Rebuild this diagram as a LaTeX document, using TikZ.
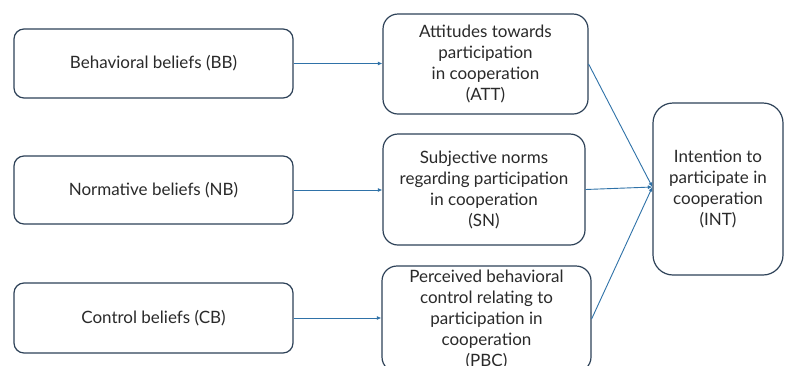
\documentclass[tikz,border=0pt]{standalone}
\usepackage{fontspec}
\setmainfont{Lato}
\usetikzlibrary{arrows.meta}
\definecolor{boxline}{HTML}{2E4258}
\definecolor{arrowline}{HTML}{2F72A8}
\definecolor{txt}{HTML}{2A2A2A}
\begin{document}
\begin{tikzpicture}[x=1pt,y=-1pt,
  box/.style={draw=boxline, line width=1.2pt, rectangle, rounded corners=10pt,
    align=center, text=txt, inner sep=0pt,
    font=\fontsize{17}{21}\selectfont},
  conn/.style={draw=arrowline, line width=0.9pt, -{Latex[length=4.5pt,width=4pt]}}]
\useasboundingbox (0,0) rectangle (785,365);
\clip (0,0) rectangle (785,365);
\fill[white] (0,0) rectangle (785,365);
\node[box, minimum width=279pt, minimum height=69pt] (BB) at (153.5,63.5) {Behavioral beliefs (BB)};
\node[box, minimum width=279pt, minimum height=68pt] (NB) at (153.5,190) {Normative beliefs (NB)};
\node[box, minimum width=279pt, minimum height=70pt] (CB) at (153.5,318) {Control beliefs (CB)};
\node[box, rounded corners=15pt, minimum width=205pt, minimum height=100pt] (ATT) at (485.5,64) {Attitudes towards\\participation\\in cooperation\\(ATT)};
\node[box, rounded corners=15pt, minimum width=202pt, minimum height=111pt] (SN) at (484,189.5) {Subjective norms\\regarding participation\\in cooperation\\(SN)};
\node[box, rounded corners=15pt, minimum width=209pt, minimum height=106pt] (PBC) at (486.5,319) {Perceived behavioral\\control relating to\\participation in\\cooperation\\(PBC)};
\node[box, rounded corners=20pt, minimum width=130pt, minimum height=172pt] (INT) at (718,189) {Intention to\\participate in\\cooperation\\(INT)};
\coordinate (tip) at ([yshift=2pt]INT.west);
\draw[conn] (BB.east) -- (BB.east -| ATT.west);
\draw[conn] (NB.east) -- (NB.east -| SN.west);
\draw[conn] (CB.east) -- (CB.east -| PBC.west);
\draw[conn] (ATT.east) -- (tip);
\draw[conn] (SN.east) -- (tip);
\draw[conn] (PBC.east) -- (tip);
\end{tikzpicture}
\end{document}
